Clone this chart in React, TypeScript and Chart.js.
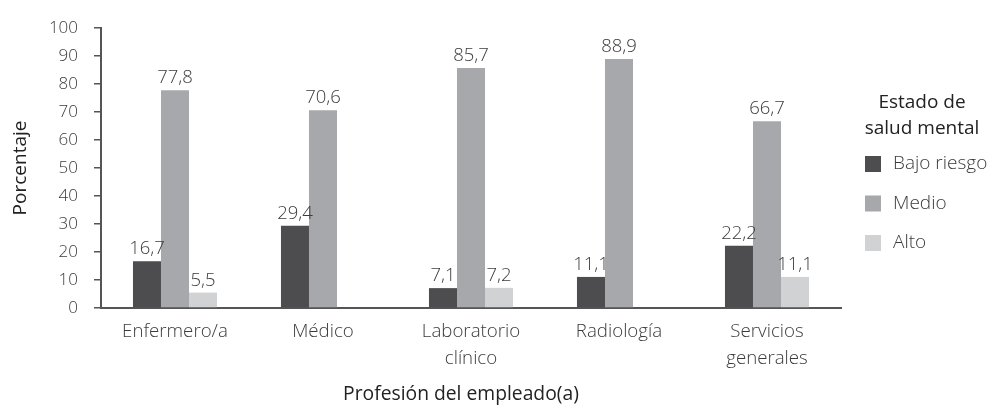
import React, { useEffect, useRef } from "react";
import { Chart, registerables } from "chart.js";

Chart.register(...registerables);

const categories: (string | string[])[] = [
  "Enfermero/a",
  "Médico",
  ["Laboratorio", "clínico"],
  "Radiología",
  ["Servicios", "generales"],
];
const seriesNames = ["Bajo riesgo", "Medio", "Alto"];
const bajoRiesgo = [16.7, 29.4, 7.1, 11.1, 22.2];
const medio = [77.8, 70.6, 85.7, 88.9, 66.7];
const alto: (number | null)[] = [5.5, null, 7.2, null, 11.1];
const seriesColors = ["#4d4d4f", "#a7a8ab", "#d1d2d4"];
const legendTitle = ["Estado de", "salud mental"];
const yTitle = "Porcentaje";
const xTitle = "Profesión del empleado(a)";

const FONT = "'Open Sans', sans-serif";
const TEXT = "#3b3b3d";
const AXIS = "#555557";

const valueLabels = {
  id: "valueLabels",
  afterDatasetsDraw(chart: any) {
    const ctx = chart.ctx;
    ctx.save();
    ctx.font = `300 18.5px ${FONT}`;
    ctx.fillStyle = TEXT;
    ctx.textAlign = "center";
    ctx.textBaseline = "alphabetic";
    chart.data.datasets.forEach((ds: any, i: number) => {
      const meta = chart.getDatasetMeta(i);
      meta.data.forEach((bar: any, j: number) => {
        const v = ds.data[j];
        if (v === null || v === undefined) return;
        ctx.fillText(v.toFixed(1).replace(".", ","), bar.x, bar.y - 7);
      });
    });
    ctx.restore();
  },
};

const sideLegend = {
  id: "sideLegend",
  afterDraw(chart: any) {
    const ctx = chart.ctx;
    ctx.save();
    ctx.fillStyle = "#222";
    ctx.textAlign = "center";
    ctx.textBaseline = "middle";
    ctx.font = `400 19px ${FONT}`;
    legendTitle.forEach((t, i) => ctx.fillText(t, 922, 103 + i * 26));
    ctx.font = `300 19px ${FONT}`;
    ctx.textAlign = "left";
    chart.data.datasets.forEach((ds: any, i: number) => {
      const cy = 164 + i * 39.5;
      ctx.fillStyle = ds.backgroundColor;
      ctx.fillRect(865, cy - 8, 16, 16);
      ctx.fillStyle = TEXT;
      ctx.fillText(ds.label, 893, cy);
    });
    ctx.restore();
  },
};

export default function App() {
  const ref = useRef<HTMLCanvasElement>(null);
  useEffect(() => {
    document.body.style.margin = "0";
    const chart = new Chart(ref.current!, {
      type: "bar",
      data: {
        labels: categories,
        datasets: [bajoRiesgo, medio, alto].map((d, i) => ({
          label: seriesNames[i],
          data: d,
          backgroundColor: seriesColors[i],
          borderWidth: 0,
          barPercentage: 1,
          categoryPercentage: 0.568,
        })),
      },
      options: {
        animation: false,
        responsive: false,
        maintainAspectRatio: false,
        layout: { padding: { top: 28, right: 146, bottom: 0, left: 0 } },
        plugins: {
          legend: { display: false },
          tooltip: { enabled: false },
        },
        scales: {
          x: {
            grid: { display: false, drawTicks: false },
            border: { display: true, color: AXIS, width: 2 },
            ticks: {
              color: TEXT,
              padding: 10,
              font: { family: FONT, size: 18.7, weight: "300", lineHeight: "27px" },
              maxRotation: 0,
              autoSkip: false,
            },
            title: {
              display: true,
              text: xTitle + "    ",
              color: "#222",
              font: { family: FONT, size: 19.3, weight: "400", lineHeight: 1.2 },
              padding: { top: 0, bottom: 0 },
            },
            afterFit: (s: any) => {
              s.height = 98;
            },
          },
          y: {
            min: 0,
            max: 100,
            ticks: {
              stepSize: 10,
              color: TEXT,
              padding: 16,
              font: { family: FONT, size: 17, weight: "300" },
            },
            grid: {
              display: true,
              drawOnChartArea: false,
              drawTicks: true,
              tickLength: 7,
              color: AXIS,
              lineWidth: 1.5,
            },
            border: { display: true, color: AXIS, width: 2 },
            title: {
              display: true,
              text: yTitle,
              color: "#222",
              font: { family: FONT, size: 19, weight: "400", lineHeight: 1.2 },
              padding: { top: 9, bottom: 0 },
            },
            afterFit: (s: any) => {
              s.width = 101;
            },
          },
        },
      },
      plugins: [valueLabels, sideLegend],
    });
    return () => chart.destroy();
  }, []);
  return (
    <div style={{ width: 987, height: 406 }}>
      <canvas ref={ref} width={987} height={406} style={{ display: "block" }} />
    </div>
  );
}
